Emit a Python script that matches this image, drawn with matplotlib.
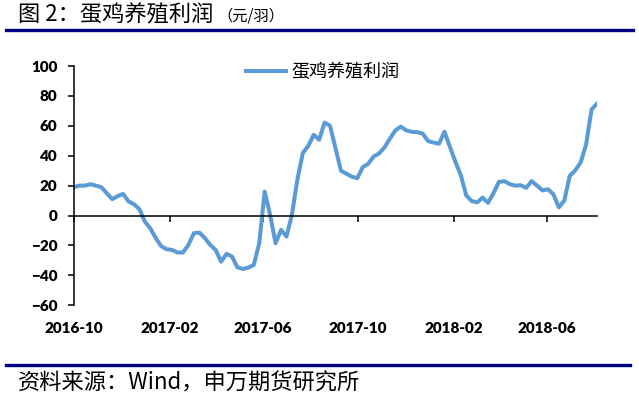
import numpy as np
import pandas as pd
import matplotlib
matplotlib.use('Agg')
import matplotlib.pyplot as plt
from matplotlib.lines import Line2D

plt.rcParams['font.family'] = ['Noto Sans CJK SC', 'DejaVu Sans']

# weekly layer-farming profit (yuan per bird)
start_date = '2016-10-01'
profit = [19, 20, 20, 21, 20, 19, 15, 11, 13, 14.5,
          9.5, 7.6, 4.3, -4, -8.5, -15, -20.5, -22.5, -23, -24.7,
          -24.7, -19.6, -11.8, -11.4, -15, -19.6, -23, -30.8, -25.6, -27.4,
          -34.6, -35.7, -34.8, -33, -18.5, 16, 0.5, -18.5, -9.6, -14,
          0.5, 24, 41.8, 46.6, 54, 50.7, 62.2, 60, 45, 30,
          28, 26, 25, 32.4, 34.6, 39.5, 41.5, 45.6, 51.5, 57,
          59.5, 56.9, 56, 55.8, 54.8, 49.8, 48.8, 48, 56, 46,
          36, 27, 13.5, 9.7, 8.8, 12, 8.5, 15, 22.5, 23,
          21, 20, 20.3, 18.5, 23, 20, 16.8, 17.6, 14.2, 5.5,
          10, 26.6, 30.2, 35.5, 47.5, 71, 74.8]
series_name = '蛋鸡养殖利润'

tick_dates = ['2016-10-01', '2017-02-01', '2017-06-01', '2017-10-01',
              '2018-02-01', '2018-06-01']
tick_labels = ['2016-10', '2017-02', '2017-06', '2017-10', '2018-02', '2018-06']
yticks = np.arange(-60, 101, 20)

title = '图 2：蛋鸡养殖利润'
unit = '（元/羽）'
source = '资料来源：Wind，申万期货研究所'

dates = pd.date_range(start_date, periods=len(profit), freq='7D')
tick_dates = pd.to_datetime(tick_dates)

fig = plt.figure(figsize=(6.39, 3.99), dpi=100)
ax = fig.add_axes([74/639, 1 - 305.3/399, 523/639, 239.3/399])

ax.plot(dates, profit, color='#5B9BD5', lw=2.9, solid_joinstyle='round',
        label=series_name)

ax.set_xlim(dates[0], dates[-1])
ax.set_ylim(-60, 100)
ax.set_yticks(yticks)
ax.set_xticks(tick_dates)

ax.spines['top'].set_visible(False)
ax.spines['right'].set_visible(False)
ax.spines['bottom'].set_position(('data', 0))
ax.spines['bottom'].set_linewidth(1.1)
ax.spines['left'].set_linewidth(1.1)
ax.tick_params(axis='x', direction='out', length=4, width=1.1, labelbottom=False)
ax.tick_params(axis='y', direction='out', length=4, width=1.1, pad=8)
for lab in ax.get_yticklabels():
    lab.set_fontfamily('Lato')
    lab.set_fontweight('heavy')
    lab.set_fontsize(11)

# date labels sit below the plot, not at the zero line
for d, t in zip(tick_dates, tick_labels):
    ax.text(d, -0.095, t, transform=ax.get_xaxis_transform(), ha='center',
            va='center', fontfamily='Lato', fontweight='heavy', fontsize=11)

ax.legend(loc='center left', bbox_to_anchor=(246/639, 1 - 72/399),
          bbox_transform=fig.transFigure, frameon=False, fontsize=13,
          handlelength=2.2, handletextpad=0.3, borderpad=0, borderaxespad=0)

# header and footer
t = fig.text(18/639, 1 - 15/399, title, fontsize=16, va='center', ha='left')
ax.annotate(unit, xy=(1, 0.45), xycoords=t, xytext=(3, 0),
            textcoords='offset points', va='center', ha='left', fontsize=11)
fig.add_artist(Line2D([6/639, 633/639], [1 - 30/399] * 2, color='#000080', lw=2.4))
fig.add_artist(Line2D([6/639, 630/639], [1 - 365/399] * 2, color='#000080', lw=2.4))
fig.text(18/639, 1 - 383/399, source, fontsize=16, va='center', ha='left')

fig.savefig('out.png', dpi=100)
